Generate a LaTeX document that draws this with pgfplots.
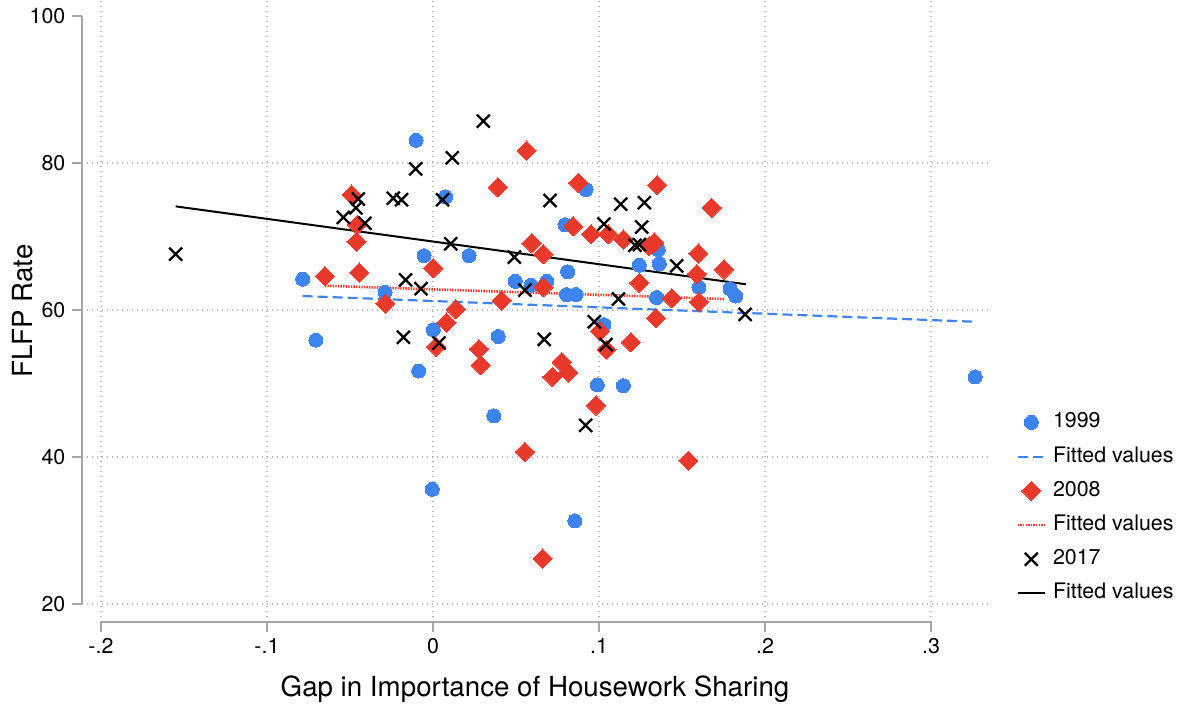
\documentclass[border=0pt]{standalone}
\usepackage{pgfplots}
\pgfplotsset{compat=1.18}
\usepackage{fontspec}
\setmainfont{TeX Gyre Heros}
\definecolor{sblue}{HTML}{3D84F1}
\definecolor{sred}{HTML}{E8392B}
\definecolor{axgray}{HTML}{A6A6A6}
\begin{document}
\begin{tikzpicture}
\useasboundingbox (-41pt,-41pt) rectangle (552pt,311pt);
\begin{axis}[
  at={(0pt,0pt)}, anchor=south west,
  scale only axis, width=453pt, height=311pt,
  xmin=-0.2114, xmax=0.3343, ymin=17.55, ymax=102.18,
  clip=false,
  axis line style={draw=none},
  xtick={-0.2,-0.1,0,0.1,0.2,0.3},
  xticklabels={-.2,-.1,0,.1,.2,.3},
  ytick={20,40,60,80},
  yticklabels={20,40,60,80},
  extra y ticks={100}, extra y tick labels={100},
  extra y tick style={grid=none},
  xtick pos=bottom, ytick pos=left,
  tick align=outside, major tick length=4.8pt,
  tick style={axgray, line width=0.7pt},
  grid=major,
  grid style={gray!55, line width=0.6pt, dash pattern=on 0.6pt off 1.9pt},
  tick label style={font=\fontsize{10.7}{12}\selectfont},
  xlabel={Gap in Importance of Housework Sharing},
  xlabel style={at={(axis description cs:0.5,0)}, anchor=base, yshift=-37.5pt, font=\fontsize{13.85}{16}\selectfont},
  ylabel={FLFP Rate},
  ylabel style={at={(axis description cs:0,0.5)}, anchor=base, rotate=0, yshift=24.5pt, font=\fontsize{13.85}{16}\selectfont},
  legend image code/.code={\draw[mark repeat=2,mark phase=2,#1] plot coordinates {(0pt,0pt) (6.75pt,0pt) (13.5pt,0pt)};},
  legend style={at={(axis description cs:1.031,0.349)}, anchor=north west, draw=none, fill=none,
    inner sep=0pt, font=\fontsize{10.7}{12}\selectfont, row sep=0pt,
    cells={anchor=west},
    nodes={text height=7.8pt, text depth=2.4pt, inner sep=3.45pt}},
]
\addplot[only marks, mark=*, mark size=3.5pt, color=sblue, mark options={draw=sblue, fill=sblue, line width=0pt}] table {
x y
-0.0785 64.2
-0.0705 55.9
-0.0102 83.1
-0.0086 51.7
-0.0054 67.4
0.0002 57.3
-0.0004 35.6
0.0076 75.4
0.0217 67.4
-0.0289 62.4
0.0393 56.4
0.0367 45.6
0.0496 63.9
0.0590 63.4
0.0685 63.9
0.0811 65.2
0.0805 62.1
0.0861 62.1
0.0795 71.6
0.0922 76.4
0.1030 58.0
0.0990 49.8
0.1147 49.7
0.0855 31.3
0.1243 66.1
0.1357 68.2
0.1363 66.3
0.1347 61.7
0.1602 63.1
0.1789 62.9
0.1823 61.9
0.3265 50.9
};
\addlegendentry{1999}
\addplot[sblue, line width=1.1pt, dash pattern=on 5pt off 2.5pt] coordinates {(-0.0785,61.9) (0.3265,58.4)};
\addlegendentry{Fitted values}
\addplot[only marks, mark=square*, mark size=3.4pt, color=sred, mark options={rotate=45, draw=sred, fill=sred, line width=0pt}] table {
x y
-0.0651 64.6
-0.0490 75.7
-0.0456 71.6
-0.0460 69.3
-0.0444 65.1
-0.0287 60.9
0.0002 65.7
0.0137 60.1
0.0082 58.3
0.0018 55.0
0.0390 76.7
0.0564 81.7
0.0594 69.1
0.0414 61.3
0.0277 54.7
0.0287 52.5
0.0554 40.7
0.0875 77.3
0.0845 71.4
0.0952 70.3
0.1056 70.3
0.1147 69.6
0.0665 67.6
0.0665 63.1
0.1243 63.7
0.1303 68.7
0.1333 69.2
0.1351 77.0
0.1679 73.9
0.1598 67.7
0.1589 64.9
0.1753 65.5
0.1602 61.1
0.1438 61.6
0.1343 58.9
0.1006 57.1
0.1046 54.6
0.1191 55.6
0.0775 52.9
0.0815 51.5
0.0719 50.9
0.0982 47.0
0.1538 39.5
0.0661 26.2
};
\addlegendentry{2008}
\addplot[sred, line width=1.3pt, dash pattern=on 0.7pt off 0.6pt] coordinates {(-0.0651,63.3) (0.1753,61.5)};
\addlegendentry{Fitted values}
\addplot[only marks, mark=x, mark size=4.6pt, black, mark options={line width=1.15pt}] table {
x y
-0.1550 67.6
0.0303 85.7
0.0116 80.7
-0.0104 79.2
-0.0450 75.1
-0.0464 73.9
-0.0540 72.6
-0.0410 71.8
-0.0239 75.2
-0.0189 75.0
0.0058 75.0
0.0107 69.0
-0.0165 64.1
-0.0072 62.9
0.0490 67.2
0.0554 62.7
-0.0178 56.3
0.0036 55.5
0.0705 74.9
0.1030 71.7
0.1131 74.4
0.1273 74.6
0.1257 71.3
0.1217 68.8
0.1243 68.9
0.1468 66.0
0.1117 61.5
0.1880 59.4
0.0972 58.4
0.1042 55.3
0.0670 56.0
0.0920 44.3
};
\addlegendentry{2017}
\addplot[black, line width=1pt] coordinates {(-0.155,74.1) (0.1885,63.5)};
\addlegendentry{Fitted values}
\draw[axgray, line width=0.7pt] (axis cs:-0.2114,20) -- (axis cs:-0.2114,100);
\draw[axgray, line width=0.7pt] (axis cs:-0.2,17.55) -- (axis cs:0.3,17.55);
\end{axis}
\end{tikzpicture}
\end{document}
